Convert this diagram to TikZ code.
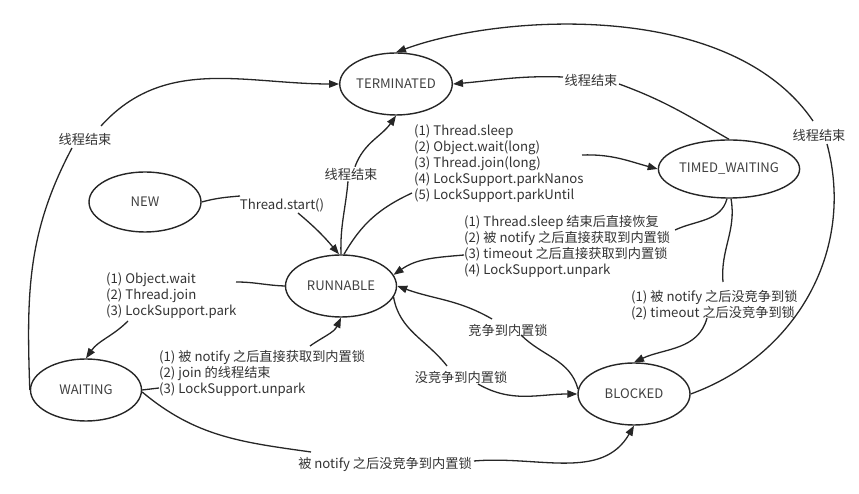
\documentclass[tikz,border=0pt]{standalone}
\usepackage{fontspec}
\setmainfont{Noto Sans CJK SC}
\usetikzlibrary{shapes.geometric,arrows.meta,calc}
\begin{document}
\begin{tikzpicture}[x=1pt,y=1pt,
  state/.style={ellipse,draw=black!85,line width=1.4pt,inner sep=0pt,text=black!75,font=\fontsize{13.1}{15}\selectfont},
  lab/.style={inner sep=1pt,text=black!80,align=left,font=\fontsize{13.2}{16}\selectfont},
  con/.style={draw=black!85,line width=1.3pt},
  arr/.style={con,-{Triangle[length=10pt,width=7.5pt]}}]
\path[use as bounding box] (0,0) rectangle (859,494);
% states
\node[state,minimum width=112,minimum height=62] (term) at (396,410) {TERMINATED};
\node[state,minimum width=112,minimum height=60] (new) at (145,292) {NEW};
\node[state,minimum width=138,minimum height=58] (timed) at (729,325) {TIMED\_WAITING};
\node[state,minimum width=111,minimum height=62] (run) at (341,208) {RUNNABLE};
\node[state,minimum width=111,minimum height=62] (wait) at (86,104) {WAITING};
\node[state,minimum width=112,minimum height=62] (block) at (634,100) {BLOCKED};
% labels
\node[lab] (lEndA) at (85,355) {线程结束};
\node[lab] (lStart) at (282,289) {Thread.start()};
\node[lab] (lEndB) at (351,320) {线程结束};
\node[lab,anchor=west] (lTimed) at (413,330) {(1) Thread.sleep\\(2) Object.wait(long)\\(3) Thread.join(long)\\(4) LockSupport.parkNanos\\(5) LockSupport.parkUntil};
\node[lab] (lEndC) at (591,414) {线程结束};
\node[lab] (lEndD) at (819,359) {线程结束};
\node[lab,anchor=west] (lBack) at (463,248) {(1) Thread.sleep 结束后直接恢复\\(2) 被 notify 之后直接获取到内置锁\\(3) timeout 之后直接获取到内置锁\\(4) LockSupport.unpark};
\node[lab,anchor=west] (lTB) at (630,189) {(1) 被 notify 之后没竞争到锁\\(2) timeout 之后没竞争到锁};
\node[lab] (lComp) at (508,164) {竞争到内置锁};
\node[lab] (lNoComp) at (461,117) {没竞争到内置锁};
\node[lab] (lWB) at (385,30) {被 notify 之后没竞争到内置锁};
\node[lab,anchor=west] (lRW) at (105,198) {(1) Object.wait\\(2) Thread.join\\(3) LockSupport.park};
\node[lab,anchor=west] (lWR) at (158,121) {(1) 被 notify 之后直接获取到内置锁\\(2) join 的线程结束\\(3) LockSupport.unpark};
% free ends of connectors, at the labels
\coordinate (c1a) at (240,298);
\coordinate (c1b) at (298,281);
\coordinate (c3a) at (412,301);
\coordinate (c3b) at (582,339);
\coordinate (c4a) at (619,410);
\coordinate (c4b) at (563,417);
\coordinate (c5a) at (675,264);
\coordinate (c5b) at (464,239);
\coordinate (c6a) at (723,212);
\coordinate (c6b) at (707,176);
\coordinate (c7a) at (827,350);
\coordinate (c7b) at (813,373);
\coordinate (c8a) at (72,346);
\coordinate (c8b) at (101,368);
\coordinate (c9a) at (236,212);
\coordinate (c9b) at (128,173);
\coordinate (c10a) at (159,106);
\coordinate (c10b) at (310,148);
\coordinate (c11a) at (311,42);
\coordinate (c11b) at (474,33);
\coordinate (c12a) at (447,128);
\coordinate (c12b) at (478,110);
\coordinate (c13a) at (521,159);
\coordinate (c13b) at (492,175);
% connectors
% NEW -> RUNNABLE
\draw[con] (new.east) to[out=15,in=185] (c1a);
\draw[arr] (c1b) to[out=-40,in=130] ($(run.north)+(-2,0)$);
% RUNNABLE -> TERMINATED
\draw[con] (run.north) to[out=92,in=-95] ($(lEndB.south)+(-3,0)$);
\draw[arr] ($(lEndB.north)+(4,0)$) to[out=70,in=-125] (term.south);
% RUNNABLE -> TIMED_WAITING
\draw[con] ($(run.north)+(3,0)$) to[out=60,in=205] (c3a);
\draw[arr] (c3b) to[out=2,in=165] (timed.west);
% TIMED_WAITING -> TERMINATED
\draw[con] (timed.north) to[out=150,in=-20] (c4a);
\draw[arr] (c4b) to[out=178,in=5] (term.east);
% TIMED_WAITING -> RUNNABLE
\draw[con] ($(timed.south)+(-2,0)$) to[out=-105,in=25] (c5a);
\draw[arr] (c5b) to[out=185,in=35] (run.12);
% TIMED_WAITING -> BLOCKED
\draw[con] ($(timed.south)+(2,0)$) to[out=-80,in=95] (c6a);
\draw[arr] (c6b) to[out=-105,in=25] (block.north);
% BLOCKED -> TERMINATED
\draw[con] (block.east) to[out=20,in=-75] (c7a);
\draw[arr] (c7b) .. controls (730,495) and (500,480) .. (term.north);
% WAITING -> TERMINATED
\draw[con] (wait.west) to[out=92,in=-118] (c8a);
\draw[arr] (c8b) to[out=48,in=180] (term.west);
% RUNNABLE -> WAITING
\draw[con] (run.west) to[out=178,in=0] (c9a);
\draw[arr] (c9b) to[out=-135,in=55] (wait.north);
% WAITING -> RUNNABLE
\draw[con] (wait.east) -- (c10a);
\draw[arr] (c10b) to[out=35,in=-115] (run.south);
% WAITING -> BLOCKED
\draw[con] ($(wait.east)+(0,-2)$) to[out=-40,in=172] (c11a);
\draw[arr] (c11b) to[out=5,in=-120] (block.south);
% RUNNABLE -> BLOCKED
\draw[con] (run.-12) to[out=-80,in=128] (c12a);
\draw[arr] (c12b) to[out=-30,in=180] (block.west);
% BLOCKED -> RUNNABLE
\draw[con] (block.175) to[out=105,in=-45] (c13a);
\draw[arr] (c13b) to[out=150,in=-20] (run.east);
\end{tikzpicture}
\end{document}
